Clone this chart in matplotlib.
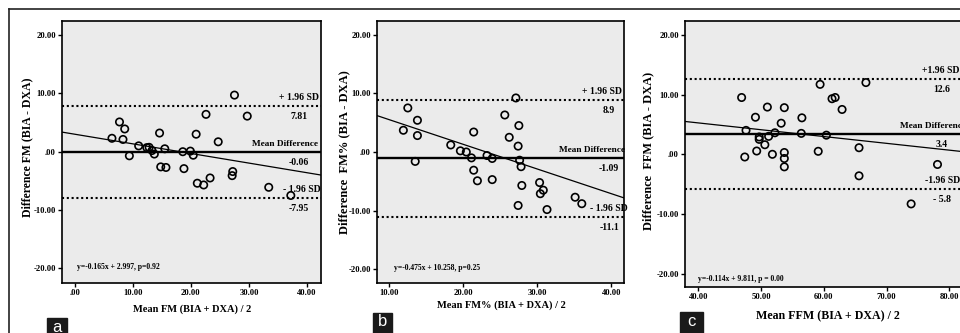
import numpy as np
import matplotlib
matplotlib.use('Agg')
import matplotlib.pyplot as plt
from matplotlib.patches import Rectangle

plt.rcParams['font.family'] = ['Liberation Serif', 'DejaVu Serif']
plt.rcParams['font.weight'] = 'bold'

# panel a: fat mass
fm_mean = [6.4, 7.7, 8.6, 8.3, 9.4, 11.0, 12.4, 12.8, 13.3, 13.7, 14.6, 14.8, 15.5, 15.7, 18.6,
           18.8, 19.9, 20.4, 20.9, 21.1, 22.2, 22.6, 23.3, 24.7, 27.1, 27.2, 27.5, 29.7, 33.4, 37.2]
fm_diff = [2.3, 5.1, 3.9, 2.1, -0.7, 1.0, 0.7, 0.75, 0.2, -0.4, 3.2, -2.6, 0.5, -2.7, 0.0,
           -2.9, 0.1, -0.6, 3.0, -5.4, -5.7, 6.4, -4.5, 1.7, -4.1, -3.4, 9.7, 6.1, -6.1, -7.5]
fm_limits = [7.81, -0.06, -7.95]
fm_limit_labels = ['7.81', '-0.06', '-7.95']
fm_fit = [-0.165, 2.997]

# panel b: fat mass %
fmp_mean = [11.9, 12.5, 13.5, 13.8, 13.8, 18.3, 19.6, 20.4, 21.1, 21.4, 21.4, 21.9, 23.2, 23.9, 23.9,
            25.6, 26.2, 27.1, 27.4, 27.4, 27.5, 27.6, 27.8, 27.9, 30.3, 30.4, 30.8, 31.3, 35.1, 36.0]
fmp_diff = [3.7, 7.5, -1.6, 5.4, 2.8, 1.2, 0.2, 0.0, -1.0, 3.4, -3.1, -4.9, -0.6, -1.1, -4.7,
            6.3, 2.5, 9.2, 1.0, -9.1, 4.5, -1.4, -2.5, -5.7, -5.2, -7.1, -6.5, -9.8, -7.7, -8.8]
fmp_limits = [8.9, -1.09, -11.1]
fmp_limit_labels = ['8.9', '-1.09', '-11.1']
fmp_fit = [-0.42, 9.7]

# panel c: fat-free mass
ffm_mean = [46.9, 47.4, 47.6, 49.1, 49.3, 49.7, 49.7, 50.6, 51.0, 51.2, 51.8, 52.2, 53.2, 53.7, 53.7,
            53.7, 53.7, 56.5, 56.4, 59.1, 59.4, 60.4, 61.3, 61.8, 62.9, 65.6, 65.6, 66.7, 73.9, 78.1]
ffm_diff = [9.5, -0.45, 4.0, 6.2, 0.55, 2.9, 2.5, 1.6, 7.9, 3.0, 0.0, 3.6, 5.2, 7.8, 0.3,
            -0.7, -2.1, 6.1, 3.5, 0.5, 11.7, 3.2, 9.3, 9.5, 7.5, 1.1, -3.6, 12.0, -8.3, -1.7]
ffm_limits = [12.6, 3.4, -5.8]
ffm_limit_labels = ['12.6', '3.4', '- 5.8']
ffm_fit = [-0.114, 9.811]

yticks = [20, 10, 0, -10, -20]
ytick_labels = ['20.00', '10.00', '.00', '-10.00', '-20.00']

W, H = 960, 333
fig = plt.figure(figsize=(W / 100, H / 100), dpi=100)


def px_axes(left, right, top, bottom):
    return fig.add_axes([left / W, 1 - bottom / H, (right - left) / W, (bottom - top) / H])


def draw_panel(ax, xs, ys, limits, limit_labels, fit, xlim, ylim, xticks, xticklabels,
               eq_text, eq_pos, sd_text, name_x, val_x):
    ax.set_facecolor('#ebebeb')
    ax.set_xlim(xlim)
    ax.set_ylim(ylim)
    hi, mean, lo = limits
    ax.axhline(hi, color='black', lw=1.5, ls=(0, (1, 1.3)))
    ax.axhline(lo, color='black', lw=1.5, ls=(0, (1, 1.3)))
    ax.axhline(mean, color='black', lw=1.7)
    xx = np.array(xlim)
    ax.plot(xx, fit[0] * xx + fit[1], color='black', lw=0.9)
    ax.scatter(xs, ys, s=28, facecolors='none', edgecolors='black', linewidths=1.2, zorder=3)

    ax.set_xticks(xticks)
    ax.set_xticklabels(xticklabels)
    ax.set_yticks(yticks)
    ax.set_yticklabels(ytick_labels)
    ax.tick_params(direction='out', length=3, width=1, labelsize=6.2, pad=1.5,
                   top=False, right=False)
    for s in ax.spines.values():
        s.set_linewidth(1.2)

    tr = ax.get_yaxis_transform()
    names = [sd_text[0], 'Mean Difference', sd_text[1]]
    sizes = [7, 6.7, 7]
    for val, name, nx, fs, lab in zip([hi, mean, lo], names, name_x, sizes, limit_labels):
        ax.annotate(name, (nx, val), xycoords=tr, xytext=(0, 6), textcoords='offset points',
                    ha='right', va='center', fontsize=fs, annotation_clip=False)
        ax.annotate(lab, (val_x, val), xycoords=tr, xytext=(0, -7.5), textcoords='offset points',
                    ha='center', va='center', fontsize=7, annotation_clip=False)
    ax.text(eq_pos[0], eq_pos[1], eq_text, transform=tr, fontsize=5.5, va='center')


ax_a = px_axes(62, 321, 21, 283)
draw_panel(ax_a, fm_mean, fm_diff, fm_limits, fm_limit_labels, fm_fit,
           (-2.2, 42.4), (-22.5, 22.4), [0, 10, 20, 30, 40],
           ['.00', '10.00', '20.00', '30.00', '40.00'],
           'y=-0.165x + 2.997, p=0.92', (0.058, -19.8), ['+ 1.96 SD', '- 1.96 SD'],
           [0.992, 0.99, 0.998], 0.915)

ax_b = px_axes(377, 624, 21, 283)
draw_panel(ax_b, fmp_mean, fmp_diff, fmp_limits, fmp_limit_labels, fmp_fit,
           (8.34, 41.7), (-22.3, 22.3), [10, 20, 30, 40],
           ['10.00', '20.00', '30.00', '40.00'],
           'y=-0.475x + 10.258, p=0.25', (0.069, -19.8), ['+ 1.96 SD', '- 1.96 SD'],
           [0.99, 1.004, 1.016], 0.94)

ax_c = px_axes(685, 967, 21, 287)
draw_panel(ax_c, ffm_mean, ffm_diff, ffm_limits, ffm_limit_labels, ffm_fit,
           (37.88, 82.8), (-22.2, 22.3), [40, 50, 60, 70, 80],
           ['40.00', '50.00', '60.00', '70.00', '80.00'],
           'y=-0.114x + 9.811, p = 0.00', (0.046, -20.8), ['+1.96 SD', '-1.96 SD'],
           [0.975, 0.995, 0.975], 0.91)

# axis titles placed in pixel space
ylabels = ['Difference FM (BIA - DXA)', 'Difference  FM% (BIA - DXA)', 'Difference  FFM (BIA - DXA)']
xlabels = ['Mean FM (BIA + DXA) / 2', 'Mean FM% (BIA + DXA) / 2', 'Mean FFM (BIA + DXA) / 2']
for (x, y), t, fs in zip([(27, 147), (344, 152), (648, 151)], ylabels, [8.5, 9.0, 8.9]):
    fig.text(x / W, 1 - y / H, t, rotation=90, ha='center', va='center', fontsize=fs)
for (x, y), t, fs in zip([(192, 309), (501, 305), (828, 316)], xlabels, [7.5, 7.5, 8.6]):
    fig.text(x / W, 1 - y / H, t, ha='center', va='center', fontsize=fs)

# panel letters
for (x0, y0, w, h), letter in zip([(47, 318, 20, 18), (373, 313, 19, 22), (680, 312, 23, 23)],
                                  ['a', 'b', 'c']):
    fig.patches.append(Rectangle((x0 / W, 1 - (y0 + h) / H), w / W, h / H,
                                 transform=fig.transFigure, color='#1a1a1a'))
    fig.text((x0 + w / 2) / W, 1 - (y0 + 9) / H, letter, color='white', ha='center', va='center',
             fontsize=12, family='Liberation Sans', weight='normal')

# outer frame
fig.add_artist(plt.Line2D([9 / W, 1], [1 - 9 / H, 1 - 9 / H], color='#222222', lw=1.2,
                          transform=fig.transFigure))
fig.add_artist(plt.Line2D([9 / W, 9 / W], [0, 1 - 9 / H], color='#222222', lw=1.2,
                          transform=fig.transFigure))

fig.savefig('out.png', dpi=100)
